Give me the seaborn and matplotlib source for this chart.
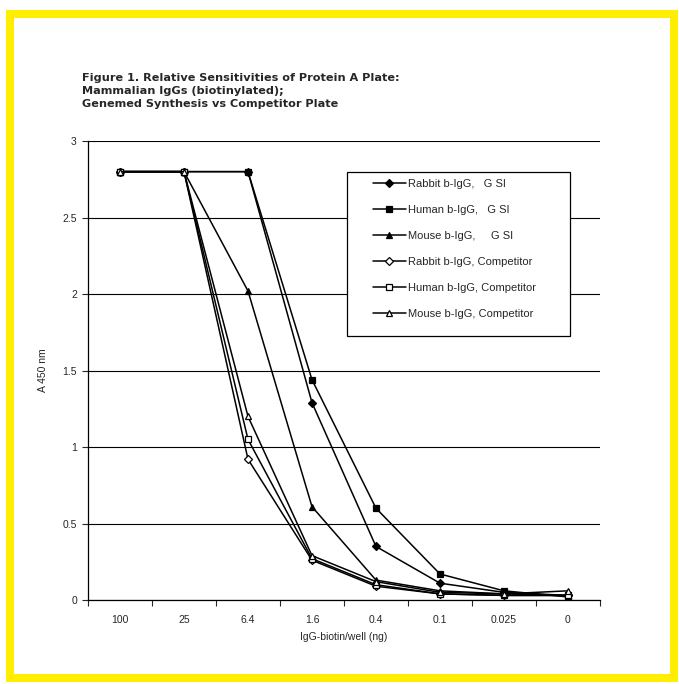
import numpy as np
import pandas as pd
import seaborn as sns
import matplotlib.pyplot as plt
from matplotlib.patches import Rectangle

doses = ["100", "25", "6.4", "1.6", "0.4", "0.1", "0.025", "0"]

rabbit_gsi = [2.8, 2.8, 2.8, 1.29, 0.35, 0.11, 0.05, 0.03]
human_gsi = [2.8, 2.8, 2.8, 1.44, 0.60, 0.17, 0.06, 0.02]
mouse_gsi = [2.8, 2.8, 2.02, 0.61, 0.13, 0.06, 0.04, 0.03]
rabbit_comp = [2.8, 2.8, 0.92, 0.26, 0.09, 0.04, 0.03, 0.03]
human_comp = [2.8, 2.8, 1.05, 0.27, 0.10, 0.04, 0.03, 0.03]
mouse_comp = [2.8, 2.8, 1.20, 0.29, 0.12, 0.05, 0.04, 0.06]

title_lines = ["Figure 1. Relative Sensitivities of Protein A Plate:",
               "Mammalian IgGs (biotinylated);",
               "Genemed Synthesis vs Competitor Plate"]

series = [
    ("Rabbit b-IgG,   G SI", rabbit_gsi, "D", "black"),
    ("Human b-IgG,   G SI", human_gsi, "s", "black"),
    ("Mouse b-IgG,     G SI", mouse_gsi, "^", "black"),
    ("Rabbit b-IgG, Competitor", rabbit_comp, "D", "white"),
    ("Human b-IgG, Competitor", human_comp, "s", "white"),
    ("Mouse b-IgG, Competitor", mouse_comp, "^", "white"),
]

sns.set_style("white")
plt.rcParams['font.family'] = ['Liberation Sans', 'DejaVu Sans']

fig = plt.figure(figsize=(6.79, 6.84), dpi=100)
# yellow frame around the whole picture
fig.patches.append(Rectangle((10 / 679, 6 / 684), 664 / 679, 664 / 684,
                             transform=fig.transFigure, fill=False,
                             edgecolor="#ffee00", linewidth=5.8))
ax = fig.add_axes([0.1296, 0.1228, 0.754, 0.671])

x = np.arange(len(doses))
for label, vals, mk, fc in series:
    df = pd.DataFrame({"x": x, "y": vals})
    ms = 4.3 if mk == "D" else 5
    sns.lineplot(data=df, x="x", y="y", ax=ax, color="black", linewidth=1.1,
                 marker=mk, markersize=ms, markerfacecolor=fc,
                 markeredgecolor="black", markeredgewidth=0.9, label=label)

ax.set_xlim(-0.5, len(doses) - 0.5)
ax.set_ylim(0, 3)
ax.set_yticks(np.arange(0, 3.01, 0.5))
ax.set_yticklabels(["0", "0.5", "1", "1.5", "2", "2.5", "3"], fontsize=7.5)
ax.set_xticks(x)
ax.set_xticklabels(doses, fontsize=7.5)
ax.set_xticks(np.arange(-0.5, len(doses)), minor=True)
ax.tick_params(axis="x", which="major", length=0, pad=11)
ax.tick_params(axis="x", which="minor", length=4, width=0.8, direction="out", bottom=True)
ax.tick_params(axis="y", length=4, width=0.8, direction="out", left=True, pad=4)
ax.yaxis.grid(True, color="black", linewidth=0.8)
ax.set_axisbelow(True)
for s in ["top", "right"]:
    ax.spines[s].set_visible(False)
for s in ["left", "bottom"]:
    ax.spines[s].set_color("black")
    ax.spines[s].set_linewidth(0.9)

ax.set_xlabel("IgG-biotin/well (ng)", fontsize=7.5, labelpad=5)
ax.set_ylabel("A 450 nm", fontsize=7.5, labelpad=10)

# legend box drawn separately (wide side margins like the original)
ax.add_patch(Rectangle((0.506, 0.575), 0.435, 0.357, transform=ax.transAxes,
                       facecolor="white", edgecolor="black", linewidth=0.9,
                       zorder=4))
leg = ax.legend(loc="upper left", bbox_to_anchor=(0.5566, 0.918), fontsize=8,
                frameon=False, handlelength=2.97, handletextpad=0.2,
                labelspacing=1.45, borderpad=0, borderaxespad=0)
leg.set_zorder(5)

for i, line in enumerate(title_lines):
    fig.text(0.121, 1 - (78 + 13 * i) / 684, line, fontsize=8.1,
             fontweight="bold", va="center", ha="left", family="DejaVu Sans")

fig.savefig("out.png", dpi=100)
